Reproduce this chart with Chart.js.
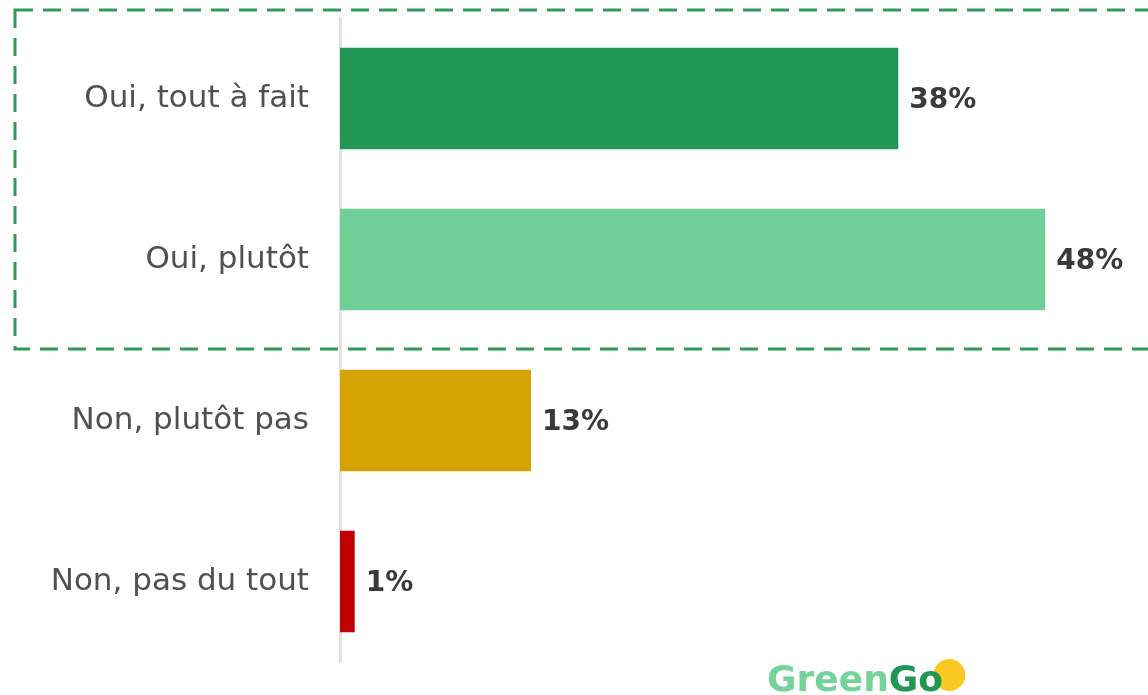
<!DOCTYPE html>
<html>
<head>
<meta charset="utf-8">
<script src="https://cdn.jsdelivr.net/npm/chart.js@4"></script>
<style>
  body { margin: 0; background: #fff; }
  .wrap { width: 1148px; height: 695px; position: relative; }
</style>
</head>
<body>
<div class="wrap"><canvas id="chart"></canvas></div>
<script>
const categories = ["Oui, tout à fait", "Oui, plutôt", "Non, plutôt pas", "Non, pas du tout"];
const values = [38, 48, 13, 1];
const barColors = ["#229654", "#70cf97", "#d4a202", "#c00000"];
const xMax = 55;

// value labels at the end of each bar
const valueLabels = {
  id: "valueLabels",
  afterDatasetsDraw(chart) {
    const ctx = chart.ctx;
    const meta = chart.getDatasetMeta(0);
    ctx.save();
    ctx.font = "bold 28px 'DejaVu Sans'";
    ctx.fillStyle = "#3a3a3a";
    ctx.textAlign = "left";
    ctx.textBaseline = "middle";
    meta.data.forEach((bar, i) => {
      ctx.fillText(values[i] + "%", bar.x + 11, bar.y + 2);
    });
    ctx.restore();
  }
};

// dashed frame around the two "Oui" answers + logo
const extras = {
  id: "extras",
  afterDraw(chart) {
    const ctx = chart.ctx;
    const y = chart.scales.y;
    const step = y.getPixelForValue(1) - y.getPixelForValue(0);
    const top = chart.chartArea.top - 8;
    const bottom = y.getPixelForValue(1) + step / 2 + 9;
    ctx.save();
    ctx.strokeStyle = "#2e9a58";
    ctx.lineWidth = 3;
    ctx.setLineDash([18, 10]);
    ctx.strokeRect(15, top, chart.width + 20, bottom - top);
    ctx.restore();

    // logo
    ctx.save();
    ctx.font = "bold 36px 'DejaVu Sans'";
    ctx.textBaseline = "alphabetic";
    const lx = 767, ly = 691;
    const wGreen = ctx.measureText("Green").width;
    const wG = ctx.measureText("G").width;
    const oStart = lx + wGreen + wG;
    ctx.fillStyle = "#f9c823";
    ctx.beginPath();
    ctx.arc(oStart + 31, ly - 16, 16, 0, Math.PI * 2);
    ctx.fill();
    ctx.fillStyle = "#74d29b";
    ctx.fillText("Green", lx, ly);
    ctx.fillStyle = "#229654";
    ctx.fillText("Go", lx + wGreen, ly);
    ctx.restore();
  }
};

new Chart(document.getElementById("chart"), {
  type: "bar",
  data: {
    labels: categories,
    datasets: [{
      data: values,
      backgroundColor: barColors,
      barPercentage: 0.63,
      categoryPercentage: 1
    }]
  },
  options: {
    indexAxis: "y",
    responsive: true,
    maintainAspectRatio: false,
    animation: false,
    layout: { padding: { top: 18, bottom: 33, right: 0 } },
    plugins: { legend: { display: false }, tooltip: { enabled: false } },
    scales: {
      x: { display: false, min: 0, max: xMax },
      y: {
        grid: { display: false },
        border: { display: true, color: "#e2e2e2", width: 3 },
        ticks: {
          color: "#505050",
          padding: 23,
          font: { family: "'DejaVu Sans'", size: 31 }
        },
        afterFit(scale) {
          scale.width = 340;
          scale.paddingTop = 0;
          scale.paddingBottom = 0;
        }
      }
    }
  },
  plugins: [valueLabels, extras]
});
</script>
</body>
</html>
